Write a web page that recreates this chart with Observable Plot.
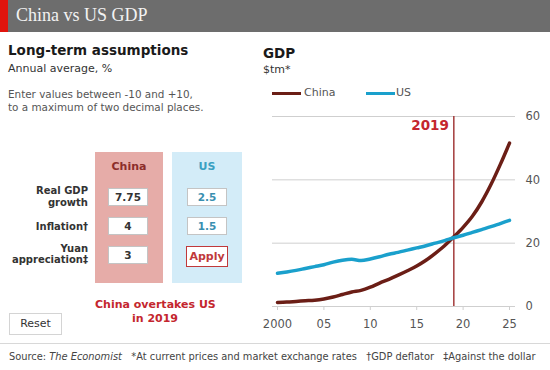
<!DOCTYPE html>
<html>
<head>
<meta charset="utf-8">
<script src="https://cdn.jsdelivr.net/npm/d3@7"></script>
<script src="https://cdn.jsdelivr.net/npm/@observablehq/plot@0.6"></script>
<style>
  html, body { margin: 0; padding: 0; background: #fff; }
  body { width: 550px; height: 370px; position: relative; overflow: hidden; font-family: "DejaVu Sans", Verdana, sans-serif; color: #333; }
  .abs { position: absolute; white-space: nowrap; }
  #hdr { left: 0; top: 0; width: 550px; height: 32px; background: #6d6d6d; }
  #hdr .strip { position: absolute; left: 0; top: 0; width: 8px; height: 32px; background: #e0140d; }
  #hdr .t { position: absolute; left: 16px; top: 4px; font-family: "Liberation Serif", "Times New Roman", serif; font-size: 18px; color: #f2f2f2; line-height: 22px; }
  .h1 { font-weight: bold; font-size: 13.5px; color: #1a1a1a; }
  .sub { font-size: 11px; color: #333; }
  .note { font-size: 10.4px; color: #555; line-height: 13px; }
  .box { position: absolute; }
  .lbl { position: absolute; font-weight: bold; font-size: 10px; color: #333; text-align: right; line-height: 12px; }
  .inp { position: absolute; width: 38px; height: 16px; border: 1px solid #c4c4c4; background: #fff; font-size: 10.5px; font-weight: bold; text-align: center; line-height: 16px; }
  .colh { position: absolute; font-weight: bold; font-size: 11px; text-align: center; }
  #apply { position: absolute; left: 186px; top: 246px; width: 40px; height: 19px; border: 1.5px solid #c0393b; background: #fff; color: #c0393b; font-weight: bold; font-size: 11px; text-align: center; line-height: 19px; }
  #reset { position: absolute; left: 9px; top: 313px; width: 51px; height: 20px; border: 1px solid #d4d4d4; background: #fff; color: #333; font-size: 11px; text-align: center; line-height: 20px; }
  #over { left: 95px; top: 298px; width: 120px; text-align: center; font-weight: bold; font-size: 11px; color: #c4262e; line-height: 14px; }
  #sep { left: 0; top: 343px; width: 550px; height: 1px; background: #d8d8d8; }
  #foot { left: 9px; top: 351px; font-size: 9.85px; color: #444; }
  .leg { position: absolute; font-size: 11px; color: #555; }
  .sw { position: absolute; height: 3.5px; }
  #chart { left: 260px; top: 105px; }
</style>
</head>
<body>
<div id="hdr" class="abs"><div class="strip"></div><div class="t">China vs US GDP</div></div>

<div class="abs h1" style="left:8px;top:42px;">Long-term assumptions</div>
<div class="abs sub" style="left:8px;top:62px;">Annual average, %</div>
<div class="abs note" style="left:8px;top:88px;">Enter values between -10 and +10,<br>to a maximum of two decimal places.</div>

<div id="panel"></div>

<div id="over" class="abs">China overtakes US<br>in 2019</div>
<div id="reset">Reset</div>

<div class="abs h1" style="left:263px;top:45px;">GDP</div>
<div class="abs sub" style="left:263px;top:63px;">$tm*</div>
<div id="legend"></div>

<div id="chart" class="abs"></div>

<div id="sep" class="abs"></div>
<div id="foot" class="abs">Source: <i>The Economist</i>&nbsp;&nbsp;&nbsp;*At current prices and market exchange rates&nbsp;&nbsp;&nbsp;†GDP deflator&nbsp;&nbsp;&nbsp;‡Against the dollar</div>

<script>
// ---- Data ----
const years = [2000,2001,2002,2003,2004,2005,2006,2007,2008,2009,2010,2011,2012,2013,2014,2015,2016,2017,2018,2019,2020,2021,2022,2023,2024,2025];
const chinaGDP = [1.3,1.4,1.6,1.8,2.0,2.4,3.0,3.8,4.6,5.1,6.1,7.4,8.6,9.9,11.3,12.8,14.6,16.8,19.2,22.0,25.0,28.5,33.0,38.5,44.8,51.6];
const usGDP    = [10.5,10.9,11.4,12.0,12.6,13.2,14.0,14.6,14.9,14.5,15.0,15.7,16.5,17.1,17.8,18.5,19.2,20.0,20.8,21.7,22.5,23.4,24.3,25.2,26.2,27.2];
const seriesNames = ["China", "US"];
const seriesColors = ["#6b1e16", "#1aa0cc"];
const overtakeYear = 2019;
const xTicks = [2000,2005,2010,2015,2020,2025];
const xTickLabels = ["2000","05","10","15","20","25"];
const yTicks = [0,20,40,60];

const rowLabels = [["Real GDP","growth"],["Inflation†"],["Yuan","appreciation‡"]];
const chinaInputs = ["7.75","4","3"];
const usInputs = ["2.5","1.5"];

// ---- Left panel ----
const panel = document.getElementById("panel");
function el(cls, style, html) { const d = document.createElement("div"); d.className = cls; d.setAttribute("style", style); d.innerHTML = html; panel.appendChild(d); return d; }
el("box", "left:95px;top:152px;width:68px;height:131px;background:#e6aca8;", "");
el("box", "left:172px;top:152px;width:70px;height:131px;background:#d3ecf8;", "");
el("colh", "left:95px;top:160px;width:68px;color:#8c2d2a;", seriesNames[0]);
el("colh", "left:172px;top:160px;width:70px;color:#3aa0c2;", seriesNames[1]);
const rowTops = [188, 217, 246];
const labelTops = [[185, 197], [221], [243, 254]];
rowLabels.forEach((lines, i) => {
  lines.forEach((t, j) => el("lbl", `right:${550-88}px;top:${labelTops[i][j]}px;`, t));
});
chinaInputs.forEach((v, i) => el("inp", `left:108px;top:${rowTops[i]}px;color:#333;`, v));
usInputs.forEach((v, i) => el("inp", `left:187px;top:${rowTops[i]}px;color:#3a8fb0;`, v));
const ap = document.createElement("div"); ap.id = "apply"; ap.textContent = "Apply"; panel.appendChild(ap);

// ---- Legend ----
const leg = document.getElementById("legend");
const legX = [[272, 304], [366, 396]];
seriesNames.forEach((n, i) => {
  const s = document.createElement("div"); s.className = "sw";
  s.setAttribute("style", `left:${legX[i][0]}px;top:91.5px;width:29px;background:${seriesColors[i]};`);
  leg.appendChild(s);
  const t = document.createElement("div"); t.className = "leg";
  t.setAttribute("style", `left:${legX[i][1]}px;top:86px;`); t.textContent = n;
  leg.appendChild(t);
});

// ---- Chart ----
const rows = [];
years.forEach((y, i) => {
  rows.push({year: y, value: chinaGDP[i], series: seriesNames[0]});
  rows.push({year: y, value: usGDP[i], series: seriesNames[1]});
});

const chart = Plot.plot({
  width: 290,
  height: 230,
  marginLeft: 17,
  marginRight: 41,
  marginTop: 11,
  marginBottom: 29,
  style: {fontFamily: "DejaVu Sans, Verdana, sans-serif", fontSize: "11.5px", color: "#555", background: "transparent", overflow: "visible"},
  x: {domain: [2000, 2025]},
  y: {domain: [0, 60]},
  color: {domain: seriesNames, range: seriesColors},
  marks: [
    Plot.ruleY(yTicks, {stroke: "#cfcfcf", strokeWidth: 1, insetLeft: -5, insetRight: -6}),
    Plot.axisX({ticks: xTicks, tickFormat: (d) => xTickLabels[xTicks.indexOf(d)], tickSize: 4, tickPadding: 9, stroke: "#cfcfcf", fill: "#555", label: null}),
    Plot.axisY({anchor: "right", ticks: yTicks, tickSize: 0, tickPadding: 16, textAnchor: "start", fill: "#555", label: null}),
    Plot.ruleX([overtakeYear], {y1: 0, y2: 60, stroke: "#a33b3b", strokeWidth: 1.5}),
    Plot.text([overtakeYear], {x: d => d, y: 60, text: d => String(d), textAnchor: "end", lineAnchor: "top", dx: -5, dy: 4, fontWeight: "bold", fontSize: 13.5, fill: "#c4262e"}),
    Plot.line(rows, {x: "year", y: "value", z: "series", stroke: "series", strokeWidth: 3.5, curve: "monotone-x"})
  ]
});
document.getElementById("chart").appendChild(chart);
</script>
</body>
</html>
